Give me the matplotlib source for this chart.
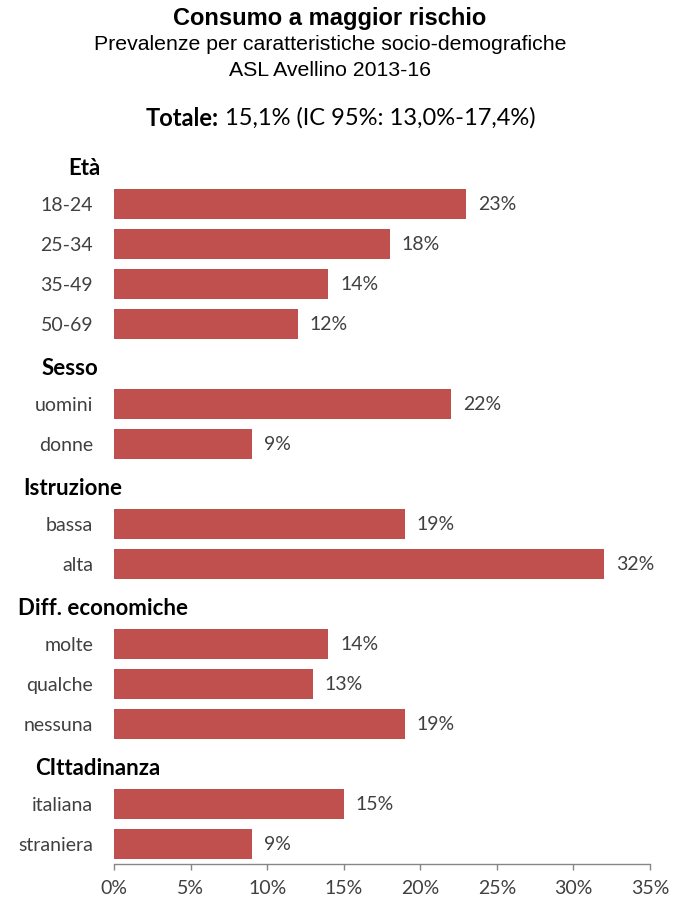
"""
Consumo a maggior rischio - prevalenze per caratteristiche socio-demografiche
Horizontal bar chart grouped by category, saved to out.png
"""

# Imports
import matplotlib
matplotlib.use("Agg")
import matplotlib.pyplot as plt
import matplotlib.ticker as ticker
import matplotlib.transforms as transforms

# Define data
group_names = ["Età", "Sesso", "Istruzione", "Diff. economiche", "CIttadinanza"]
eta_labels = ["18-24", "25-34", "35-49", "50-69"]
eta_values = [23, 18, 14, 12]
sesso_labels = ["uomini", "donne"]
sesso_values = [22, 9]
istruzione_labels = ["bassa", "alta"]
istruzione_values = [19, 32]
diff_labels = ["molte", "qualche", "nessuna"]
diff_values = [14, 13, 19]
cittadinanza_labels = ["italiana", "straniera"]
cittadinanza_values = [15, 9]
x_ticks = [0, 5, 10, 15, 20, 25, 30, 35]

groups = [
    (eta_labels, eta_values),
    (sesso_labels, sesso_values),
    (istruzione_labels, istruzione_values),
    (diff_labels, diff_values),
    (cittadinanza_labels, cittadinanza_values),
]

# Styles
BAR_COLOR = "#C0504D"
TEXT_COLOR = "#404040"
BODY_FONT = "Lato"
TITLE_FONT = "Liberation Sans"
W, H = 686, 898
# left edge (pixels) of each group heading
header_x = [68, 42, 23, 18, 35]

# Build row positions: one row for the heading, then one per bar
bar_pos, bar_val, bar_lab, header_pos = [], [], [], []
row = 0
for labels, values in groups:
    header_pos.append(row)
    row += 1
    for lab, val in zip(labels, values):
        bar_pos.append(row)
        bar_val.append(val)
        bar_lab.append(lab)
        row += 1

fig = plt.figure(figsize=(W / 100, H / 100), dpi=100)
ax = fig.add_axes([114 / W, 1 - 864 / H, (650 - 114) / W, 720 / H])

ax.barh(bar_pos, bar_val, height=0.75, color=BAR_COLOR, edgecolor="none")

# Value labels at bar end
for y, v in zip(bar_pos, bar_val):
    ax.annotate(f"{v}%", xy=(v, y), xytext=(8.5, 0), textcoords="offset points",
                va="center", ha="left", fontsize=14, family=BODY_FONT,
                color=TEXT_COLOR)

# Axes setup
ax.set_xlim(0, 35)
ax.set_ylim(row - 0.5, -0.5)
ax.set_xticks(x_ticks)
ax.xaxis.set_major_formatter(ticker.FuncFormatter(lambda v, p: f"{v:.0f}%"))
ax.set_yticks(bar_pos)
ax.set_yticklabels(bar_lab)
ax.tick_params(axis="y", length=0, pad=15)
ax.tick_params(axis="x", length=4.5, width=1, color="#868686", pad=7)
for lbl in ax.get_xticklabels() + ax.get_yticklabels():
    lbl.set_family(BODY_FONT)
    lbl.set_fontsize(14)
    lbl.set_color(TEXT_COLOR)
for side in ["left", "right", "top"]:
    ax.spines[side].set_visible(False)
ax.spines["bottom"].set_color("#868686")
ax.spines["bottom"].set_linewidth(1)

# Group headings
trans = transforms.blended_transform_factory(fig.transFigure, ax.transData)
for name, y, x in zip(group_names, header_pos, header_x):
    ax.text(x / W, y + 0.12, name, transform=trans, ha="left", va="center",
            fontsize=16, fontweight="bold", family=BODY_FONT, color="black")

# Titles
fig.text(330 / W, 1 - 19 / H, "Consumo a maggior rischio", ha="center", va="center",
         fontsize=17, fontweight="bold", family=TITLE_FONT)
fig.text(330 / W, 1 - 45 / H, "Prevalenze per caratteristiche socio-demografiche",
         ha="center", va="center", fontsize=15.3, family=TITLE_FONT)
fig.text(330 / W, 1 - 70 / H, "ASL Avellino 2013-16", ha="center", va="center",
         fontsize=15.3, family=TITLE_FONT)

# Totale line: bold label followed by regular text
t1 = fig.text(146 / W, 1 - 118 / H, "Totale:", ha="left", va="center",
              fontsize=17, fontweight="bold", family=BODY_FONT, color="black")
ax.annotate(" 15,1% (IC 95%: 13,0%-17,4%)", xy=(1, 0.5), xycoords=t1,
            ha="left", va="center", fontsize=17, family=BODY_FONT, color="black",
            annotation_clip=False)

fig.savefig("out.png", dpi=100)
